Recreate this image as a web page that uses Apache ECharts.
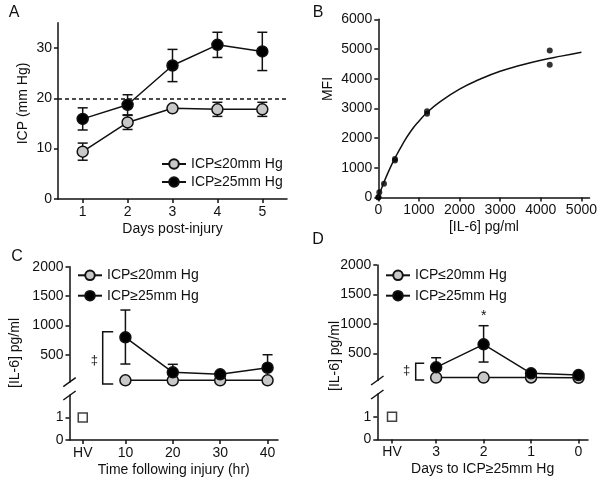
<!DOCTYPE html>
<html>
<head>
<meta charset="utf-8">
<script src="https://cdn.jsdelivr.net/npm/echarts@6/dist/echarts.min.js"></script>
<style>
  html, body { margin: 0; padding: 0; background: #fff; }
  #echarts { width: 600px; height: 483px; }
</style>
</head>
<body>
<div id="echarts"></div>
<script>
// 数据
var LOW_NAME = "ICP≤20mm Hg";
var HIGH_NAME = "ICP≥25mm Hg";

// A: ICP by day
var days = [1, 2, 3, 4, 5];
var icpLow = [9.4, 15.2, 18.0, 17.8, 17.8];
var icpLowErr = [1.7, 1.4, 0.3, 1.4, 1.4];
var icpHigh = [15.9, 18.7, 26.5, 30.6, 29.3];
var icpHighErr = [2.2, 2.0, 3.2, 2.5, 3.8];

// B: standard curve
var stdPoints = [[0, 0], [5, 20], [25, 180], [140, 460], [410, 1250], [410, 1300],
  [1200, 2820], [1200, 2900], [4220, 4950], [4220, 4470]];
var fitCurve = [[0, 0], [100, 380], [250, 870], [400, 1300], [600, 1800], [800, 2230],
  [1000, 2570], [1200, 2860], [1500, 3200], [2000, 3650], [2500, 3980], [3000, 4250],
  [3500, 4450], [4000, 4620], [4500, 4760], [5000, 4890]];

// C: IL-6 by hours after injury
var hours = [10, 20, 30, 40];
var hoursLow = [70, 70, 70, 70];
var hoursHigh = [800, 206, 172, 284];
var hoursHighErrLo = [347, 206, 172, 284];
var hoursHighErrHi = [1264, 342, 172, 505];

// D: IL-6 by days before ICP>=25
var daysTo = [3, 2, 1, 0];
var daysToLow = [88, 88, 90, 85];
var daysToHigh = [262, 653, 160, 130];
var daysToHighErrLo = [262, 352, 160, 130];
var daysToHighErrHi = [425, 969, 160, 130];

// healthy volunteers
var hvC = [[1, 1]];
var hvD = [[3.93, 1]];

var FONT = "Liberation Sans, Arial, sans-serif";
var INK = "#111";

var chartDom = document.getElementById("echarts");
var myChart = echarts.init(chartDom);
var option;

function errRender(params, api) {
  var x = api.value(0), lo = api.value(1), hi = api.value(2), m = api.value(3);
  var pLo = api.coord([x, lo]);
  var pHi = api.coord([x, hi]);
  var w = 5;
  var st = { stroke: INK, lineWidth: 1.5, fill: null };
  var kids = [];
  if (hi > lo) {
    kids.push({ type: "line", shape: { x1: pLo[0], y1: pLo[1], x2: pHi[0], y2: pHi[1] }, style: st });
  }
  if (hi > m) {
    kids.push({ type: "line", shape: { x1: pHi[0] - w, y1: pHi[1], x2: pHi[0] + w, y2: pHi[1] }, style: st });
  }
  if (lo < m) {
    kids.push({ type: "line", shape: { x1: pLo[0] - w, y1: pLo[1], x2: pLo[0] + w, y2: pLo[1] }, style: st });
  }
  return { type: "group", children: kids };
}

function errSeries(xi, xs, means, los, his) {
  return {
    type: "custom",
    xAxisIndex: xi,
    yAxisIndex: xi,
    renderItem: errRender,
    z: 1,
    silent: true,
    encode: { x: 0, y: [1, 2] },
    data: xs.map(function (x, i) { return [x, los[i], his[i], means[i]]; }),
  };
}

function lineSeries(name, xi, xs, ys, fill) {
  return {
    name: name,
    type: "line",
    xAxisIndex: xi,
    yAxisIndex: xi,
    symbol: "circle",
    symbolSize: 11,
    z: 3,
    clip: false,
    lineStyle: { color: INK, width: 1.5 },
    itemStyle: { color: fill, borderColor: INK, borderWidth: 1.5 },
    emphasis: { disabled: true },
    data: xs.map(function (x, i) { return [x, ys[i]]; }),
  };
}

function hvSeries(xi, pts) {
  return {
    name: "HV",
    type: "scatter",
    xAxisIndex: xi,
    yAxisIndex: xi,
    symbol: "rect",
    symbolSize: 9,
    itemStyle: { color: "#fff", borderColor: INK, borderWidth: 1.5 },
    data: pts,
  };
}

var axLine = { onZero: false, lineStyle: { color: INK, width: 1.5 } };
var axTick = { length: 4, lineStyle: { color: INK, width: 1.5 } };
var lblStyle = { color: INK, fontSize: 14, fontFamily: FONT, margin: 6 };
var plain = function (v) { return String(v); };

function xAx(gi, min, max, ticks, fmt, extra) {
  var a = {
    type: "value",
    gridIndex: gi,
    min: min,
    max: max,
    axisLine: axLine,
    axisTick: Object.assign({ customValues: ticks }, axTick),
    axisLabel: Object.assign({ customValues: ticks, formatter: fmt || plain }, lblStyle),
    splitLine: { show: false },
    nameLocation: "middle",
    nameGap: 23,
    nameTextStyle: { color: INK, fontSize: 14, fontFamily: FONT },
  };
  return Object.assign(a, extra || {});
}

function yAx(gi, min, max, ticks) {
  return {
    type: "value",
    gridIndex: gi,
    min: min,
    max: max,
    axisLine: axLine,
    axisTick: Object.assign({ customValues: ticks }, axTick),
    axisLabel: Object.assign({ customValues: ticks, formatter: plain }, lblStyle),
    splitLine: { show: false },
  };
}

function hiddenX(gi, min, max, inverse) {
  return { type: "value", gridIndex: gi, min: min, max: max, inverse: !!inverse, show: false };
}

function legendAt(left, top, gap) {
  return {
    data: [LOW_NAME, HIGH_NAME],
    orient: "vertical",
    left: left,
    top: top,
    padding: 0,
    itemGap: gap,
    itemWidth: 24,
    itemHeight: 12,
    selectedMode: false,
    textStyle: { color: INK, fontSize: 14, fontFamily: FONT },
  };
}

function txt(x, y, s, size, rot) {
  return {
    type: "text",
    x: x,
    y: y,
    rotation: rot || 0,
    style: { text: s, fill: INK, font: size + "px " + FONT, align: "center", verticalAlign: "middle" },
  };
}

function seg(x1, y1, x2, y2) {
  return { type: "line", shape: { x1: x1, y1: y1, x2: x2, y2: y2 }, style: { stroke: INK, lineWidth: 1.5 } };
}

function bracket(x, y1, y2, arm) {
  return {
    type: "polyline",
    shape: { points: [[x + arm, y1], [x, y1], [x, y2], [x + arm, y2]] },
    style: { stroke: INK, lineWidth: 1.5, fill: null },
  };
}

var catFmtC = function (v) { return v === 1 ? "HV" : String(v); };
var catFmtD = function (v) { return v === 3.93 ? "HV" : String(v); };

option = {
  animation: false,
  textStyle: { fontFamily: FONT },
  grid: [
    { left: 58, top: 22.7, width: 229, height: 176.3 },
    { left: 378.3, top: 19.3, width: 212.6, height: 178.2 },
    { left: 69.5, top: 266.7, width: 208.5, height: 115.4 },
    { left: 69.5, top: 395, width: 208.5, height: 45 },
    { left: 377.3, top: 265, width: 210.7, height: 115.4 },
    { left: 377.3, top: 394, width: 210.7, height: 45.5 },
  ],
  xAxis: [
    xAx(0, 0.45, 5.55, days, null, { name: "Days post-injury" }),
    xAx(1, 0, 5200, [0, 1000, 2000, 3000, 4000, 5000], null, { name: "[IL-6] pg/ml" }),
    hiddenX(2, -1.8, 42.2),
    xAx(3, -1.8, 42.2, [1].concat(hours), catFmtC, { name: "Time following injury (hr)" }),
    hiddenX(4, -0.2, 4.24, true),
    xAx(5, -0.2, 4.24, [3.93].concat(daysTo), catFmtD, { name: "Days to ICP≥25mm Hg", inverse: true }),
  ],
  yAxis: [
    yAx(0, 0, 35, [0, 10, 20, 30]),
    yAx(1, 0, 6000, [0, 1000, 2000, 3000, 4000, 5000, 6000]),
    yAx(2, 40, 2000, [500, 1000, 1500, 2000]),
    yAx(3, 0, 2, [0, 1]),
    yAx(4, 40, 2000, [500, 1000, 1500, 2000]),
    yAx(5, 0, 2, [0, 1]),
  ],
  legend: [
    legendAt(161, 157, 4),
    legendAt(77, 268.3, 6.4),
    legendAt(385, 268.3, 6.4),
  ],
  graphic: [
    txt(14, 13, "A", 16),
    txt(318, 12.5, "B", 16),
    txt(17, 257, "C", 16),
    txt(318, 240, "D", 16),
    txt(23, 103.5, "ICP (mm Hg)", 14, Math.PI / 2),
    txt(328, 89, "MFI", 14, Math.PI / 2),
    txt(15, 353, "[IL-6] pg/ml", 14, Math.PI / 2),
    txt(335, 356, "[IL-6] pg/ml", 14, Math.PI / 2),
    // axis breaks
    seg(63.3, 386.7, 75.7, 377.7),
    seg(63.3, 400, 75.7, 391),
    seg(371.1, 385, 383.5, 376),
    seg(371.1, 399, 383.5, 390),
    // significance marks
    bracket(102.7, 331.7, 384, 10.5),
    txt(94.3, 360, "‡", 13),
    bracket(415.7, 363.3, 380, 8.5),
    txt(406.7, 370, "‡", 13),
    txt(483.7, 316, "*", 14),
  ],
  series: [
    errSeries(0, days, icpLow,
      icpLow.map(function (v, i) { return v - icpLowErr[i]; }),
      icpLow.map(function (v, i) { return v + icpLowErr[i]; })),
    errSeries(0, days, icpHigh,
      icpHigh.map(function (v, i) { return v - icpHighErr[i]; }),
      icpHigh.map(function (v, i) { return v + icpHighErr[i]; })),
    Object.assign(lineSeries(LOW_NAME, 0, days, icpLow, "#c8c8c8"), {
      markLine: {
        silent: true,
        symbol: "none",
        label: { show: false },
        lineStyle: { color: INK, width: 1.5, type: [4, 3] },
        data: [{ yAxis: 20 }],
      },
    }),
    lineSeries(HIGH_NAME, 0, days, icpHigh, "#000"),

    {
      name: "fit",
      type: "line",
      xAxisIndex: 1,
      yAxisIndex: 1,
      smooth: true,
      showSymbol: false,
      lineStyle: { color: INK, width: 1.5 },
      data: fitCurve,
    },
    {
      name: "std",
      type: "scatter",
      xAxisIndex: 1,
      yAxisIndex: 1,
      symbolSize: 6,
      itemStyle: { color: "#000" },
      data: stdPoints,
    },

    errSeries(2, hours, hoursHigh, hoursHighErrLo, hoursHighErrHi),
    lineSeries(LOW_NAME, 2, hours, hoursLow, "#c8c8c8"),
    lineSeries(HIGH_NAME, 2, hours, hoursHigh, "#000"),
    hvSeries(3, hvC),

    errSeries(4, daysTo, daysToHigh, daysToHighErrLo, daysToHighErrHi),
    lineSeries(LOW_NAME, 4, daysTo, daysToLow, "#c8c8c8"),
    lineSeries(HIGH_NAME, 4, daysTo, daysToHigh, "#000"),
    hvSeries(5, hvD),
  ],
};

option && myChart.setOption(option);
</script>
</body>
</html>
